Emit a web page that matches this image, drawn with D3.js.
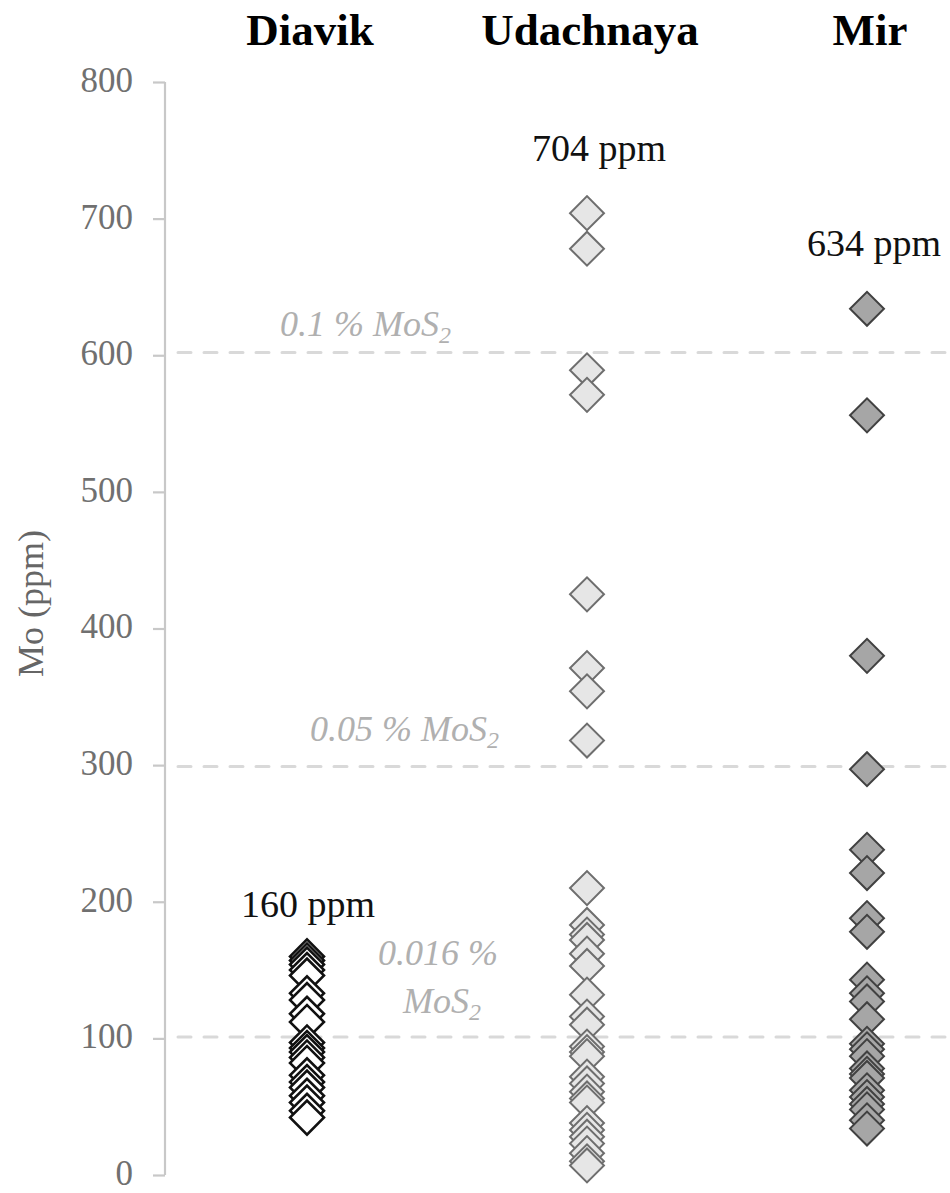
<!DOCTYPE html>
<html>
<head>
<meta charset="utf-8">
<script src="https://cdn.jsdelivr.net/npm/d3@7"></script>
<style>
  html, body { margin: 0; padding: 0; background: #fff; }
  svg { display: block; }
</style>
</head>
<body>
<svg id="chart" width="950" height="1193"></svg>
<script>
// Mo concentration (ppm) in sulphide inclusions from three kimberlite pipes
const categories = ["Diavik", "Udachnaya", "Mir"];

const diavik = [160, 157, 154, 150, 146, 133, 128, 118, 112, 97, 93, 90, 86, 82, 73, 68, 64, 58, 53, 47, 42];
const udachnaya = [704, 678, 589, 571, 425, 371, 354, 318, 210, 183, 176, 172, 162, 153, 132, 116, 110,
                   94, 90, 87, 72, 67, 61, 56, 53, 38, 33, 28, 23, 16, 10, 7];
const mir = [634, 556, 380, 297, 238, 221, 188, 178, 143, 133, 127, 114, 96, 92, 87, 78, 74, 71,
             62, 57, 52, 48, 40, 34];

const yTicks = [0, 100, 200, 300, 400, 500, 600, 700, 800];

// MoS2 reference levels expressed as Mo (ppm)
const refLevels = [602, 299, 101];
const refLabels = [["0.1 % MoS", "2"], ["0.05 % MoS", "2"], ["0.016 %", "MoS", "2"]];

const seriesValues = [diavik, udachnaya, mir];
const maxLabels = ["160 ppm", "704 ppm", "634 ppm"];

const svg = d3.select("#chart");
const serif = "'Liberation Serif', 'Times New Roman', serif";

const x = d3.scaleBand().domain(categories).range([167, 1007]).padding(0);
const y = d3.scaleLinear().domain([0, 800]).range([1175, 82]);
const cx = c => x(c) + x.bandwidth() / 2;

const styles = {
  Diavik:    { fill: "#ffffff", stroke: "#111111", width: 2.6 },
  Udachnaya: { fill: "#e6e6e6", stroke: "#6e6e6e", width: 2 },
  Mir:       { fill: "#a6a6a6", stroke: "#414141", width: 2 }
};

// dashed reference lines
svg.append("g").selectAll("line").data(refLevels).join("line")
  .attr("x1", 178).attr("x2", 950)
  .attr("y1", d => y(d)).attr("y2", d => y(d))
  .attr("stroke", "#d9d9d9").attr("stroke-width", 3)
  .attr("stroke-dasharray", "13 13").attr("stroke-linecap", "round");

// reference line labels
const refG = svg.append("g")
  .attr("font-family", serif).attr("font-style", "italic")
  .attr("font-size", 36).attr("fill", "#b0b0b0");

function subLabel(g, xPos, yPos, main, sub) {
  const t = g.append("text").attr("x", xPos).attr("y", yPos);
  t.append("tspan").text(main);
  t.append("tspan").attr("font-size", 24).attr("dy", 7).text(sub);
}
subLabel(refG, 280, y(refLevels[0]) - 17, refLabels[0][0], refLabels[0][1]);
subLabel(refG, 310, y(refLevels[1]) - 25, refLabels[1][0], refLabels[1][1]);
refG.append("text").attr("x", 378).attr("y", y(refLevels[2]) - 72).text(refLabels[2][0]);
subLabel(refG, 403, y(refLevels[2]) - 24, refLabels[2][1], refLabels[2][2]);

// y axis
const axis = svg.append("g").attr("transform", "translate(165,0)")
  .call(d3.axisLeft(y).tickValues(yTicks).tickSize(12).tickPadding(20).tickFormat(d3.format("d")));
axis.select(".domain").attr("stroke", "#c8c8c8").attr("stroke-width", 2.2)
  .attr("d", `M0,${y(800)}V${y(0)}`);
axis.selectAll(".tick line").attr("stroke", "#c8c8c8").attr("stroke-width", 2.2);
axis.selectAll(".tick text").attr("font-family", serif).attr("font-size", 35)
  .attr("dy", "0.27em").attr("fill", "#707070");

// y axis title
svg.append("text")
  .attr("transform", `translate(43,${(y(0) + y(800)) / 2 - 25}) rotate(-90)`)
  .attr("text-anchor", "middle").attr("font-family", serif).attr("font-size", 36)
  .attr("fill", "#666666").text("Mo (ppm)");

// category headers
svg.append("g").selectAll("text").data(categories).join("text")
  .attr("x", d => cx(d) + 3).attr("y", 45).attr("text-anchor", "middle")
  .attr("font-family", serif).attr("font-weight", "bold").attr("font-size", 45)
  .attr("fill", "#000").text(d => d);

// diamonds
const diamond = d3.symbol().type(d3.symbolSquare).size(24 * 24);
categories.forEach((c, i) => {
  const st = styles[c];
  svg.append("g").selectAll("path").data(seriesValues[i]).join("path")
    .attr("d", diamond)
    .attr("transform", d => `translate(${cx(c)},${y(d)}) rotate(45)`)
    .attr("fill", st.fill).attr("stroke", st.stroke).attr("stroke-width", st.width)
    .attr("stroke-linejoin", "miter");
});

// maximum value labels
const maxOffsets = [39, 52, 53];
svg.append("g").selectAll("text").data(categories).join("text")
  .attr("x", (d, i) => cx(d) + (i === 0 ? 1 : i === 1 ? 12 : 7))
  .attr("y", (d, i) => y(d3.max(seriesValues[i])) - maxOffsets[i])
  .attr("text-anchor", "middle").attr("font-family", serif).attr("font-size", 38)
  .attr("fill", "#111").text((d, i) => maxLabels[i]);
</script>
</body>
</html>
